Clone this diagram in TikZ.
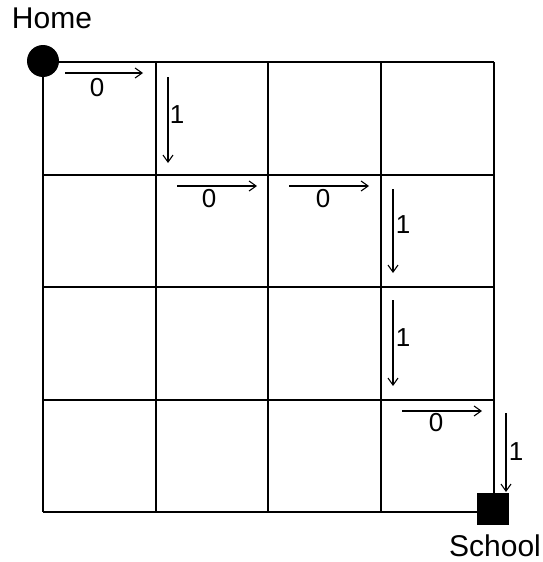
\documentclass[tikz,border=0pt]{standalone}
\usepackage{fontspec}
\setmainfont{Liberation Sans}
\usetikzlibrary{arrows.meta}
\begin{document}
\begin{tikzpicture}[x=1pt,y=-1pt,
  gridline/.style={line width=2pt},
  move/.style={line width=1.1pt,-{Straight Barb[length=7pt,width=10pt,line width=1.1pt]}},
  lbl/.style={font=\fontsize{26}{26}\selectfont,inner sep=0pt},
  bigtext/.style={font=\fontsize{30}{30}\selectfont,inner sep=0pt}]
\useasboundingbox (0,0) rectangle (543,562);
% grid
\foreach \v/\w in {43/62,156/175,268/287,381/400,494/512}{
  \draw[gridline] (\v,62) -- (\v,512);
  \draw[gridline] (43,\w) -- (494,\w);
}
% home and school
\node[circle,fill,minimum size=32pt,inner sep=0pt] (home) at (43,61) {};
\node[bigtext] (hometxt) at (52,18) {Home};
\node[fill,minimum size=32pt,inner sep=0pt] (school) at (493,509) {};
\node[bigtext] (schooltxt) at (495,546) {School};
% path arrows: horizontal (0)
\foreach \n/\xa/\xb/\y/\lx/\ly in {h1/65/143/73/97/88, h2/177/257/186/209/199, h3/289/369/186/323/199, h4/402/482/411/436/423}{
  \coordinate (\n s) at (\xa,\y);
  \coordinate (\n e) at (\xb,\y);
  \draw[move] (\n s) -- (\n e);
  \node[lbl] (\n l) at (\lx,\ly) {0};
}
% vertical arrows (1)
\foreach \n/\x/\ya/\yb/\lx/\ly in {v1/168/77/163/177/115, v2/393/189/273/403/225, v3/393/300/386/403/338, v4/506/413/492/516/452}{
  \coordinate (\n s) at (\x,\ya);
  \coordinate (\n e) at (\x,\yb);
  \draw[move] (\n s) -- (\n e);
  \node[lbl] (\n l) at (\lx,\ly) {1};
}
\end{tikzpicture}
\end{document}
